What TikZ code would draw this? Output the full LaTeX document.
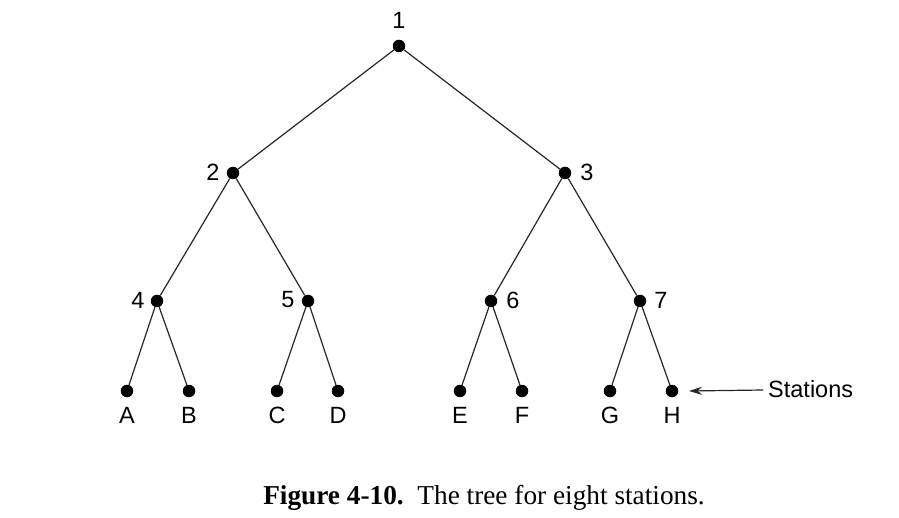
\documentclass[tikz,border=0pt]{standalone}
\usepackage{fontspec}
\setmainfont{Liberation Serif}
\setsansfont{Liberation Sans}
\usetikzlibrary{arrows.meta}
\begin{document}
\begin{tikzpicture}[x=1pt,y=-1pt,
  dotnode/.style={circle,fill=black,inner sep=0pt,minimum size=12.5pt},
  lbl/.style={font=\sffamily\fontsize{23.5}{27}\selectfont,inner sep=0pt},
  edge/.style={line width=1.2pt,black!85}]
\useasboundingbox (0,0) rectangle (899,518);
\node[dotnode] (n1) at (399,46) {};
\node[dotnode] (n2) at (233,173) {};
\node[dotnode] (n3) at (565,173) {};
\node[dotnode] (n4) at (157,301) {};
\node[dotnode] (n5) at (308,301) {};
\node[dotnode] (n6) at (491,301) {};
\node[dotnode] (n7) at (640,301) {};
\node[dotnode] (A) at (127,391) {};
\node[dotnode] (B) at (189,391) {};
\node[dotnode] (C) at (277,391) {};
\node[dotnode] (D) at (338,391) {};
\node[dotnode] (E) at (460,391) {};
\node[dotnode] (F) at (522,391) {};
\node[dotnode] (G) at (610,391) {};
\node[dotnode] (H) at (672,391) {};
\draw[edge] (n1) -- (n2) (n1) -- (n3)
  (n2) -- (n4) (n2) -- (n5) (n3) -- (n6) (n3) -- (n7)
  (n4) -- (A) (n4) -- (B) (n5) -- (C) (n5) -- (D)
  (n6) -- (E) (n6) -- (F) (n7) -- (G) (n7) -- (H);
\node[lbl] (l1) at (399,20) {1};
\node[lbl] (l2) at (213,172) {2};
\node[lbl] (l3) at (587,172) {3};
\node[lbl] (l4) at (138,300) {4};
\node[lbl] (l5) at (288,300) {5};
\node[lbl] (l6) at (513,300) {6};
\node[lbl] (l7) at (661,300) {7};
\node[lbl] (lA) at (127,415) {A};
\node[lbl] (lB) at (189,415) {B};
\node[lbl] (lC) at (277,415) {C};
\node[lbl] (lD) at (338,415) {D};
\node[lbl] (lE) at (460,415) {E};
\node[lbl] (lF) at (522,415) {F};
\node[lbl] (lG) at (610,415) {G};
\node[lbl] (lH) at (672,415) {H};
\node[lbl,anchor=west] (st) at (768,389) {Stations};
\coordinate (tip) at (689,391);
\draw[edge,-{Stealth[length=13pt,width=8pt]}] (st.west) ++(-5,1) -- (tip);
\node[font=\fontsize{27.3}{32}\selectfont,inner sep=0pt] (cap) at (484,498) {\textbf{Figure 4-10.}\hspace{0.5em}The tree for eight stations.};
\end{tikzpicture}
\end{document}
